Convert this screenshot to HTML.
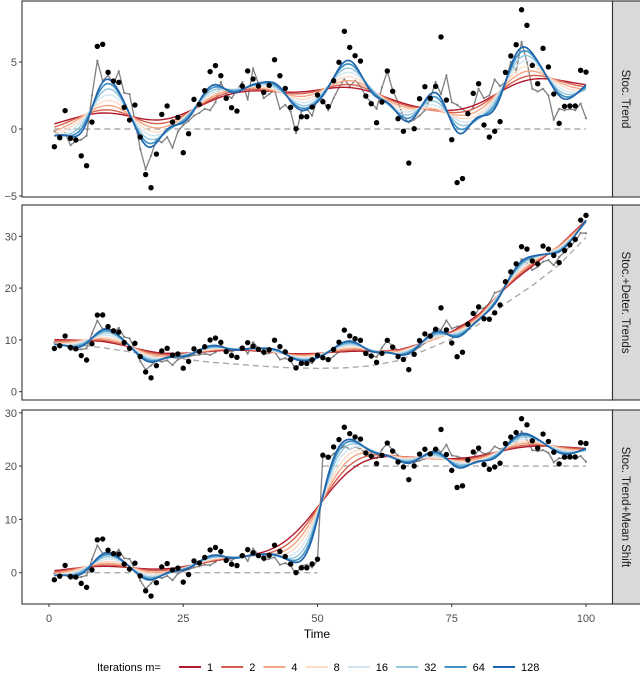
<!DOCTYPE html>
<html><head><meta charset="utf-8">
<style>
html,body{margin:0;padding:0;background:#fff;}
svg{display:block;font-family:"Liberation Sans",sans-serif;}
</style></head>
<body>
<svg id="chart" width="640" height="686" viewBox="0 0 640 686" xmlns="http://www.w3.org/2000/svg">
<g id="layer"></g>
</svg>
<script>
// ---------- data ----------
const times = Array.from({length:100},(_,i)=>i+1);
const trendPoints = [-1.32,-0.65,1.37,-0.7,-0.82,-2.0,-2.74,0.52,6.17,6.32,
4.23,3.58,3.48,1.62,0.67,1.79,-0.6,-3.4,-4.38,-1.87,
1.09,1.72,0.52,0.87,-1.77,-0.35,2.21,1.84,2.86,4.28,
4.73,3.98,2.29,1.59,1.34,3.2,4.33,3.73,3.2,2.74,
3.26,5.17,3.98,3.03,1.62,0.02,0.92,0.92,1.64,2.54,
2.04,1.67,3.6,4.98,7.29,6.09,5.47,5.07,2.46,1.89,
0.47,2.01,4.33,2.81,0.77,-0.17,-2.54,0.02,2.26,3.16,
2.29,3.18,6.87,2.16,-0.8,-4.0,-3.7,1.14,2.66,3.38,
0.3,-0.6,-0.17,0.55,4.23,5.45,6.29,8.9,7.74,4.75,
3.38,6.02,4.63,2.61,0.42,1.69,1.72,1.72,4.38,4.25];
const trendTrue = [-0.15,-0.5,-0.3,-1.2,-0.9,-0.8,-0.5,2.5,5.1,3.6,
4.0,3.4,4.3,2.7,2.6,0.6,-1.5,-3.0,-2.0,-0.8,
-1.0,-0.6,-1.4,-0.2,0.3,0.6,1.0,1.2,1.5,1.4,
2.0,3.5,2.6,2.3,2.9,3.5,2.2,4.5,3.4,2.3,
2.6,2.9,1.5,1.8,1.3,-0.3,1.3,1.5,1.0,2.3,
2.2,1.4,2.3,3.1,3.7,3.2,3.6,3.2,2.4,2.0,
1.5,3.1,4.3,2.9,2.0,0.9,0.5,0.7,1.0,1.4,
2.3,3.5,2.6,4.0,2.0,1.8,1.5,1.2,1.6,3.0,
2.3,2.5,3.7,3.2,3.5,5.0,4.3,6.5,5.0,3.0,
2.8,3.0,2.5,0.7,1.5,1.4,1.5,1.4,1.9,0.8];
const detKnotTimes = [0,5,10,15,20,25,30,35,40,45,50,55,60,65,70,75,80,85,90,95,100];
const detKnotValues = [9.8,9.1,8.5,7.7,6.9,6.3,5.7,5.3,4.9,4.6,4.5,4.6,5.0,6.0,8.0,10.2,13.0,17.0,20.5,24.5,29.8];
const shiftTime = 50;
const shiftSize = 20;
const iterations = [1,2,4,8,16,32,64,128];
const bandwidths = [6.5,5.5,4.6,3.9,3.3,2.8,2.4,2.1];
const iterColors = ["#b2182b","#d6604d","#f4a582","#fddbc7","#d1e5f0","#92c5de","#4393c3","#2166ac"];
const xTicks = [0,25,50,75,100];
const panelTitles = ["Stoc. Trend","Stoc.+Deter. Trends","Stoc. Trend+Mean Shift"];
const yTicks1 = [-5,0,5];
const yTicks2 = [0,10,20,30];
const yTicks3 = [0,10,20,30];

// ---------- helpers ----------
const NS="http://www.w3.org/2000/svg";
const layer=document.getElementById('layer');
function mk(tag,attrs,parent){const e=document.createElementNS(NS,tag);for(const k in attrs)e.setAttribute(k,attrs[k]);(parent||layer).appendChild(e);return e;}
const xs=t=>49+t*5.37;
const PL=22, PR=612.5;
function det(t){
  for(let i=0;i<detKnotTimes.length-1;i++){
    if(t<=detKnotTimes[i+1]){const a=detKnotTimes[i],b=detKnotTimes[i+1];const f=(t-a)/(b-a);return detKnotValues[i]+f*(detKnotValues[i+1]-detKnotValues[i]);}
  }
  return detKnotValues[detKnotValues.length-1];
}
function kernel(ts,ys,s,sig){let n=0,d=0;for(let i=0;i<ts.length;i++){const w=Math.exp(-((s-ts[i])**2)/(2*sig*sig));n+=w*ys[i];d+=w;}return n/d;}
function pathOf(pts){return pts.map((p,i)=>(i?'L':'M')+p[0].toFixed(2)+','+p[1].toFixed(2)).join('');}

const panels=[
 {top:1,bottom:197,y0:129,k:13.4,ticks:yTicks1,
  pts:trendPoints.slice(), truth:trendTrue.slice(), base:t=>0, dashed:[[1,100,t=>0]], name:'stoc-trend'},
 {top:205,bottom:400,y0:391.7,k:5.18,ticks:yTicks2,
  pts:trendPoints.map((v,i)=>v+det(times[i])), truth:trendTrue.map((v,i)=>v+det(times[i])), base:det, dashed:[[1,100,det]], name:'stoc-deter-trends'},
 {top:410,bottom:604,y0:572.7,k:5.33,ticks:yTicks3,
  pts:trendPoints.map((v,i)=>v+(times[i]>shiftTime?shiftSize:0)), truth:trendTrue.map((v,i)=>v+(times[i]>shiftTime?shiftSize:0)), base:t=>0,
  dashed:[[1,shiftTime,t=>0],[shiftTime+1,100,t=>shiftSize]], name:'stoc-trend-mean-shift'}
];

panels.forEach((p,pi)=>{
  const ys=v=>p.y0-v*p.k;
  const g=mk('g',{});
  
  
  const clipId='clip'+pi;
  const cp=mk('clipPath',{id:clipId},g);
  mk('rect',{x:PL,y:p.top,width:PR-PL,height:p.bottom-p.top},cp);
  const bg=mk('rect',{x:PL,y:p.top,width:PR-PL,height:p.bottom-p.top,fill:'#fff'},g);
  
  
  const inner=mk('g',{'clip-path':'url(#'+clipId+')'},g);
  p.dashed.forEach(seg=>{
    const pts=[];for(let t=seg[0];t<=seg[1];t+=0.5)pts.push([xs(t),ys(seg[2](t))]);
    const d=mk('path',{d:pathOf(pts),fill:'none',stroke:'#aaaaaa','stroke-width':1.4,'stroke-dasharray':'6,4'},inner);
    
    
  });
  const gl=mk('path',{d:pathOf(p.truth.map((v,i)=>[xs(times[i]),ys(v)])),fill:'none',stroke:'#808080','stroke-width':1.3},inner);
  
  
  p.truth.forEach((v,i)=>{
    const c=mk('circle',{cx:xs(times[i]),cy:ys(v),r:1.1,fill:'#808080'},inner);
    
    
  });
  const resid=p.pts.map((v,i)=>v-p.base(times[i]));
  iterations.forEach((m,j)=>{
    const pts=[];
    for(let s=1;s<=100;s+=0.5){pts.push([xs(s),ys(p.base(s)+kernel(times,resid,s,bandwidths[j]))]);}
    const f=mk('path',{d:pathOf(pts),fill:'none',stroke:iterColors[j],'stroke-width':j>=6?1.7:1.4},inner);
    
    
  });
  p.pts.forEach((v,i)=>{
    const c=mk('circle',{cx:xs(times[i]),cy:ys(v),r:2.7,fill:'#000'},inner);
    
    
  });
  const br=mk('rect',{x:PL,y:p.top,width:PR-PL,height:p.bottom-p.top,fill:'none',stroke:'#333','stroke-width':1.1},g);
  
  
  p.ticks.forEach(v=>{
    const y=ys(v);
    const tk=mk('line',{x1:PL-3,x2:PL,y1:y,y2:y,stroke:'#333','stroke-width':1},g);
    
    
    const tx=mk('text',{x:PL-5,y:y+4,'text-anchor':'end','font-size':11,fill:'#4d4d4d'},g);
    tx.textContent=(v<0?'\u2212'+Math.abs(v):String(v));
    
    
  });
  const st=mk('rect',{x:PR,y:p.top,width:640-PR+1,height:p.bottom-p.top,fill:'#d9d9d9',stroke:'#333','stroke-width':1.1},g);
  
  
  const cy=(p.top+p.bottom)/2;
  const stx=mk('text',{x:0,y:0,'text-anchor':'middle','font-size':11.5,fill:'#1a1a1a',transform:'translate(622,'+cy+') rotate(90)'},g);
  stx.textContent=panelTitles[pi];
  
  
});

xTicks.forEach(t=>{
  const tk=mk('line',{x1:xs(t),x2:xs(t),y1:604,y2:607,stroke:'#333','stroke-width':1});
  
  
  const tx=mk('text',{x:xs(t),y:622,'text-anchor':'middle','font-size':11,fill:'#4d4d4d'});
  tx.textContent=String(t);
  
  
});
const xt=mk('text',{x:317,y:638,'text-anchor':'middle','font-size':12,fill:'#000'});
xt.textContent='Time';



const legY=667;
const lg=mk('g',{});


const lt=mk('text',{x:97,y:legY+4,'font-size':11,fill:'#000'},lg);
lt.textContent='Iterations m=';


let lx=179;
iterations.forEach((m,j)=>{
  const ln=mk('line',{x1:lx,x2:lx+22,y1:legY,y2:legY,stroke:iterColors[j],'stroke-width':2},lg);
  
  
  const tx=mk('text',{x:lx+28,y:legY+4,'font-size':11,fill:'#000'},lg);
  tx.textContent=String(m);
  
  
  lx+= 28 + String(m).length*6.2 + 8;
});
</script>
</body></html>
